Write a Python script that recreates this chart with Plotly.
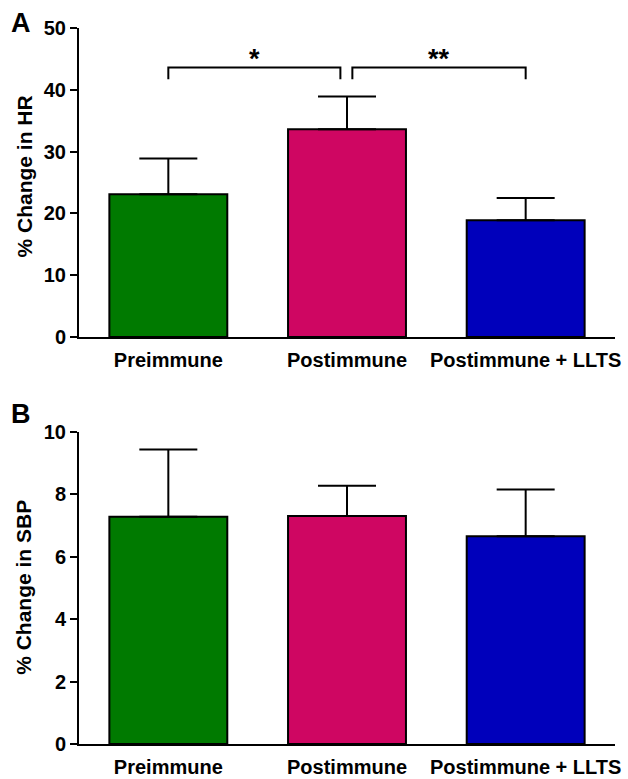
import plotly.graph_objects as go
from plotly.subplots import make_subplots

categories = ["Preimmune", "Postimmune", "Postimmune + LLTS"]
hr_values = [23.1, 33.6, 18.9]
hr_err = [5.8, 5.3, 3.6]
sbp_values = [7.28, 7.30, 6.65]
sbp_err = [2.15, 0.97, 1.50]
colors = ["#007A00", "#CF0662", "#0000BB"]
y_ticks_hr = [0, 10, 20, 30, 40, 50]
y_ticks_sbp = [0, 2, 4, 6, 8, 10]

FONT = "Liberation Sans, Arial, sans-serif"

W, H = 628, 779
ml, mr, mt, mb = 79, 13, 28, 35
plot_h = H - mt - mb
plot_w = W - ml - mr

def frac(py):
    return (H - mb - py) / plot_h

def xfrac(px):
    return (px - ml) / plot_w

fig = make_subplots(rows=2, cols=1)

for row, vals, errs in [(1, hr_values, hr_err), (2, sbp_values, sbp_err)]:
    fig.add_trace(go.Bar(
        x=list(range(len(categories))), y=vals,
        marker=dict(color=colors, line=dict(color="black", width=2)),
        width=0.66,
        error_y=dict(type="data", array=errs, arrayminus=[0]*len(errs), symmetric=False,
                     color="black", thickness=2, width=29),
        showlegend=False,
    ), row=row, col=1)

axis_common = dict(
    showline=True, linecolor="black", linewidth=2, showgrid=False, zeroline=False,
    automargin=False,
    tickfont=dict(family=FONT, size=20, color="black", weight="bold"),
)

for r in (1, 2):
    fig.update_xaxes(range=[-0.5, 2.5], tickvals=list(range(3)), ticktext=categories,
                     ticks="", ticklabelstandoff=4, row=r, col=1, **axis_common)

fig.update_yaxes(range=[0, 50], tickvals=y_ticks_hr, ticks="outside", ticklen=7, tickwidth=2,
                 tickcolor="black", row=1, col=1, **axis_common)
fig.update_yaxes(range=[0, 10], tickvals=y_ticks_sbp, ticks="outside", ticklen=7, tickwidth=2,
                 tickcolor="black", row=2, col=1, **axis_common)

fig.update_layout(
    yaxis=dict(domain=[frac(337), 1.0]),
    yaxis2=dict(domain=[0.0, frac(431.7)]),
    xaxis=dict(domain=[0, 1]), xaxis2=dict(domain=[0, 1]),
)

# significance brackets (top panel)
brackets = [(0, 1, "*", -0.037), (1, 2, "**", 0.03)]
bar_y, leg_y = 43.6, 41.7
for a, b, label, shift in brackets:
    x0 = a + (shift if shift > 0 else 0)
    x1 = b + (shift if shift < 0 else 0)
    fig.add_shape(type="path",
                  path=f"M {x0},{leg_y} L {x0},{bar_y} L {x1},{bar_y} L {x1},{leg_y}",
                  xref="x", yref="y", line=dict(color="black", width=2))
    fig.add_annotation(x=(x0 + x1) / 2, y=42.2, xref="x", yref="y", text=f"<b>{label}</b>",
                       showarrow=False, xanchor="center", yanchor="bottom",
                       font=dict(family=FONT, size=27, color="black"))

# y-axis titles
fig.add_annotation(x=xfrac(24), y=(frac(337) + 1) / 2 + 6 / plot_h, xref="paper", yref="paper",
                   text="<b>% Change in HR</b>", textangle=-90, showarrow=False,
                   xanchor="center", yanchor="middle",
                   font=dict(family=FONT, size=21, color="black"))
fig.add_annotation(x=xfrac(24), y=frac(431.7) / 2, xref="paper", yref="paper",
                   text="<b>% Change in SBP</b>", textangle=-90, showarrow=False,
                   xanchor="center", yanchor="middle",
                   font=dict(family=FONT, size=21, color="black"))

# panel labels
for lab, py in [("A", 23.5), ("B", 414)]:
    fig.add_annotation(x=xfrac(21), y=frac(py), xref="paper", yref="paper",
                       text=f"<b>{lab}</b>", showarrow=False,
                       xanchor="center", yanchor="middle",
                       font=dict(family=FONT, size=27, color="black"))

fig.update_layout(
    width=W, height=H,
    margin=dict(l=ml, r=mr, t=mt, b=mb, autoexpand=False),
    plot_bgcolor="white", paper_bgcolor="white",
    font=dict(family=FONT, color="black"),
)

fig.write_html("out.html")
